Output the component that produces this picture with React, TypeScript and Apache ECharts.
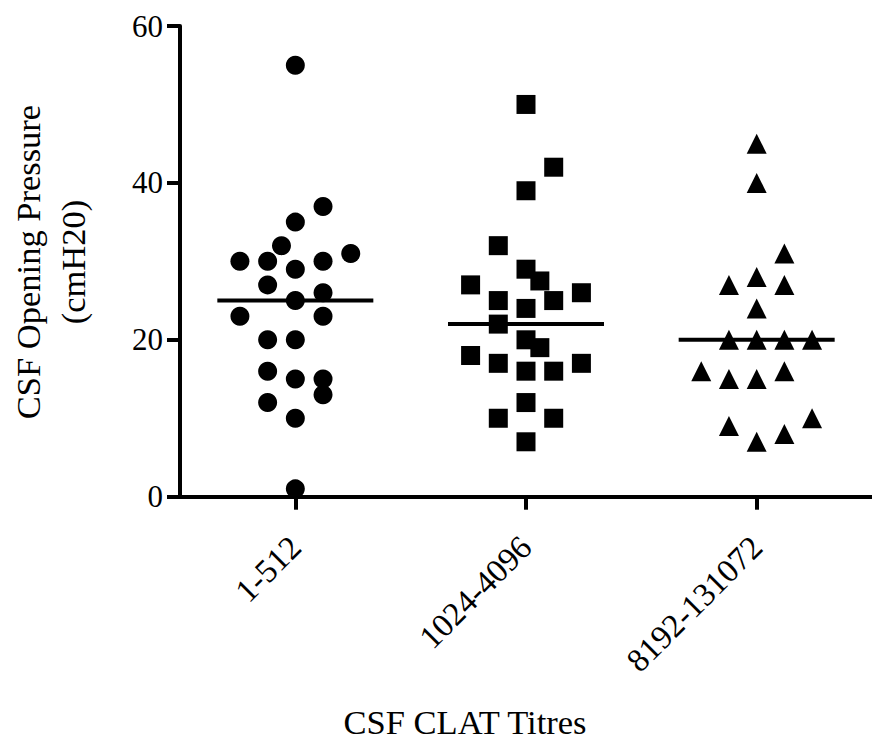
import React, { useEffect, useRef } from 'react';
import * as echarts from 'echarts';

const categories = ['1-512', '1024-4096', '8192-131072'];
const yTickValues = [0, 20, 40, 60];
const yTitleLines = ['CSF Opening Pressure', '(cmH20)'];
const xTitle = 'CSF CLAT Titres';

// group 1: circles (value, horizontal jitter slot)
const group1Values = [55, 37, 35, 32, 30, 30, 30, 31, 29, 27, 26, 25, 23, 23, 20, 20, 16, 15, 15, 13, 12, 10, 1];
const group1Slots = [0, 1, 0, -0.5, -2, -1, 1, 2, 0, -1, 1, 0, -2, 1, -1, 0, -1, 0, 1, 1, -1, 0, 0];

// group 2: squares
const group2Values = [50, 42, 39, 32, 29, 27.5, 27, 26, 25, 25, 24, 22, 20, 19, 18, 17, 17, 16, 16, 12, 10, 10, 7];
const group2Slots = [0, 1, 0, -1, 0, 0.5, -2, 2, -1, 1, 0, -1, 0, 0.5, -2, -1, 2, 0, 1, 0, -1, 1, 0];

// group 3: triangles
const group3Values = [45, 40, 31, 28, 27, 27, 24, 20, 20, 20, 20, 16, 15, 15, 16, 9, 7, 8, 10];
const group3Slots = [0, 0, 1, 0, -1, 1, 0, -1, 0, 1, 2, -2, -1, 0, 1, -1, 0, 1, 2];

const medians = [25, 22, 20];
const groupSymbols = ['circle', 'rect', 'triangle'];

const SLOT = 0.1201;
const FONT = "'Liberation Serif', 'Times New Roman', serif";

export default function App() {
  const ref = useRef<HTMLDivElement>(null);

  useEffect(() => {
    if (!ref.current) return;
    const chart = echarts.init(ref.current, null, { renderer: 'svg' });
    const groups = [
      { values: group1Values, slots: group1Slots },
      { values: group2Values, slots: group2Slots },
      { values: group3Values, slots: group3Slots },
    ];
    const black = '#000';
    const scatterSeries = groups.map((g, gi) => ({
      type: 'scatter',
      xAxisIndex: 0,
      yAxisIndex: 0,
      symbol: groupSymbols[gi],
      symbolSize: gi === 2 ? 20 : 19,
      itemStyle: { color: black, opacity: 1 },
      data: g.values.map((v, i) => [gi + g.slots[i] * SLOT, v]),
      z: 3,
    }));

    const option: any = {
      animation: false,
      grid: { left: 180, top: 26, width: 703, height: 470.7, containLabel: false },
      xAxis: [
        { type: 'value', min: -0.5, max: 2.5, show: false, position: 'top' },
        {
          type: 'category',
          data: categories,
          boundaryGap: true,
          position: 'bottom',
          axisLine: { show: true, onZero: false, lineStyle: { color: black, width: 4 } },
          axisTick: { show: true, alignWithLabel: true, length: 13, lineStyle: { color: black, width: 4 } },
          axisLabel: { rotate: 45, margin: 45, fontSize: 33, fontFamily: FONT, color: black, interval: 0 },
          splitLine: { show: false },
        },
      ],
      yAxis: {
        type: 'value',
        min: yTickValues[0],
        max: yTickValues[yTickValues.length - 1],
        interval: yTickValues[1] - yTickValues[0],
        axisLine: { show: true, onZero: false, lineStyle: { color: black, width: 4 } },
        axisTick: { show: true, length: 13, lineStyle: { color: black, width: 4 } },
        axisLabel: { margin: 17, fontSize: 31, fontFamily: FONT, color: black },
        splitLine: { show: false },
      },
      graphic: [
        {
          type: 'text', x: 28, y: 262, rotation: Math.PI / 2,
          style: { text: yTitleLines[0], fontSize: 34.5, fontFamily: FONT, fill: black, textAlign: 'center', textVerticalAlign: 'middle' },
        },
        {
          type: 'text', x: 73, y: 262, rotation: Math.PI / 2,
          style: { text: yTitleLines[1], fontSize: 34.5, fontFamily: FONT, fill: black, textAlign: 'center', textVerticalAlign: 'middle' },
        },
        {
          type: 'text', x: 465, y: 722, 
          style: { text: xTitle, fontSize: 34.5, fontFamily: FONT, fill: black, textAlign: 'center', textVerticalAlign: 'middle' },
        },
      ],
      series: [
        ...scatterSeries,
        {
          type: 'custom',
          xAxisIndex: 0,
          yAxisIndex: 0,
          z: 4,
          data: medians.map((m, i) => [i, m]),
          renderItem: (params: any, api: any) => {
            const p = api.coord([api.value(0), api.value(1)]);
            return {
              type: 'line',
              shape: { x1: p[0] - 78, y1: p[1], x2: p[0] + 78, y2: p[1] },
              style: { stroke: black, lineWidth: 4 },
            };
          },
        },
      ],
    };
    chart.setOption(option);
    return () => chart.dispose();
  }, []);

  return (
    <div
      ref={ref}
      style={{ position: 'absolute', left: 0, top: 0, width: 872, height: 740, background: '#fff' }}
    />
  );
}
